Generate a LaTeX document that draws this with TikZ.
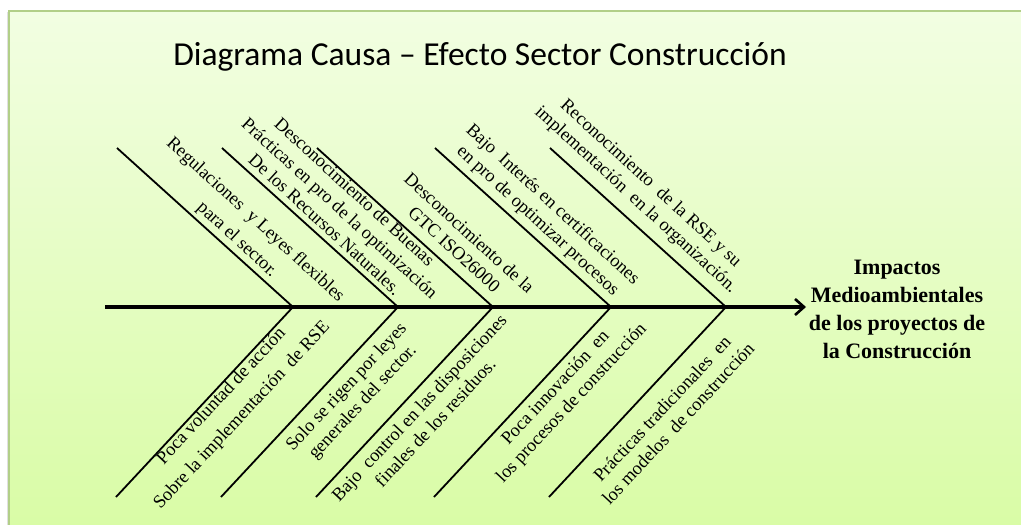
\documentclass[tikz,border=0pt]{standalone}
\usepackage{fontspec}
\setmainfont{Liberation Serif}
\newfontfamily\titlefont{Carlito}
\usetikzlibrary{arrows.meta}
\definecolor{bgtop}{HTML}{F2FEE2}
\definecolor{bgbot}{HTML}{D9FCA6}
\definecolor{bgborder}{HTML}{B2CF88}
\tikzset{
  bone/.style={line width=1.8pt, black},
  spine/.style={line width=3.4pt, black, -{Straight Barb[length=9pt,width=16pt,line width=2.6pt]}},
  uplabel/.style={rotate=-42.5, align=center, inner sep=0pt, font=\fontsize{18.4}{22}\selectfont},
  lowlabel/.style={rotate=47, align=center, inner sep=0pt, font=\fontsize{18.4}{22}\selectfont},
  effect/.style={align=center, inner sep=0pt, font=\fontsize{22}{28}\selectfont\bfseries},
}
\begin{document}
\begin{tikzpicture}[x=1pt,y=-1pt]
\useasboundingbox (0,0) rectangle (1021,525);
% background
\fill[white] (0,0) rectangle (1021,525);
\fill[black!12] (7,12) rectangle (9,525);
\shade[top color=bgtop, bottom color=bgbot] (9,11) rectangle (1023,527);
\draw[bgborder, line width=1.6pt] (9,527) -- (9,11) -- (1023,11);
% title
\node (title) at (480,57) {\titlefont\fontsize{33.5}{38}\selectfont Diagrama Causa – Efecto Sector Construcción};
% spine coordinates
\coordinate (s0) at (105,307);
\coordinate (tip) at (806,307);
\foreach \i/\x in {1/293,2/398,3/493,4/611,5/726}{
  \coordinate (j\i) at (\x,307);
  \coordinate (t\i) at (\x-176,148);
  \coordinate (b\i) at (\x-177,497);
}
\draw[spine] (s0) -- (tip);
\foreach \i in {1,...,5}{
  \draw[bone] (t\i) -- (j\i);
  \draw[bone] (j\i) -- (b\i);
}
% upper labels
\node[uplabel, font=\fontsize{18.4}{27}\selectfont] (u1) at (246,230) {Regulaciones\ \ y Leyes flexibles\\para el sector.};
\node[uplabel] (u2) at (340,208) {Desconocimiento de Buenas\\Prácticas en pro de la optimización\\De los Recursos Naturales.};
\node[uplabel] (u3) at (462,241) {Desconocimiento de la\\GTC ISO26000};
\node[uplabel] (u4) at (545,213) {Bajo\ \ Interés en certificaciones\\en pro de optimizar procesos};
\node[uplabel] (u5) at (643,192) {Reconocimiento\ \ de la RSE y su\\implementación\ \ en la organización.};
% lower labels
\node[lowlabel, font=\fontsize{18.4}{28}\selectfont] (l1) at (232,406) {Poca voluntad de acción\\Sobre la implementación\ \ de RSE};
\node[lowlabel] (l2) at (355,395) {Solo se rigen por leyes\\generales del sector.};
\node[lowlabel] (l3) at (427,415) {Bajo\ \ control en las disposiciones\\finales de los residuos.};
\node[lowlabel] (l4) at (564,396) {Poca innovación\ \ en\\los procesos de construcción};
\node[lowlabel] (l5) at (670,416) {Prácticas tradicionales\ \ en\\los modelos\ \ de construcción};
% effect
\node[effect] (eff) at (897,309) {Impactos\\Medioambientales\\de los proyectos de\\la Construcción};
\end{tikzpicture}
\end{document}
